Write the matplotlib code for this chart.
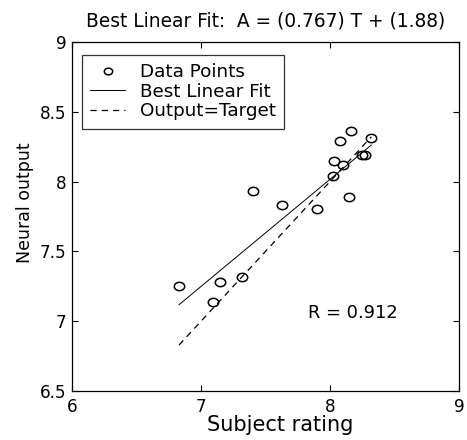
import numpy as np
import matplotlib
matplotlib.use('Agg')
import matplotlib.pyplot as plt
from matplotlib.path import Path

### Font setup
plt.rcParams['font.family'] = ['DejaVu Sans']

### Data: subject rating (target) vs neural output
subject_rating = [6.83, 7.15, 7.09, 7.32, 7.40, 7.63, 7.90, 8.02, 8.03,
                  8.10, 8.08, 8.16, 8.15, 8.25, 8.27, 8.32]
neural_output = [7.25, 7.28, 7.14, 7.32, 7.93, 7.83, 7.80, 8.04, 8.15,
                 8.12, 8.29, 8.36, 7.89, 8.19, 8.19, 8.31]

### Fit parameters and correlation
slope = 0.767
intercept = 1.88
r_value = 0.912

### Slightly wide circle used as the point marker
circ = Path.unit_circle()
wide_circle = Path(circ.vertices * np.array([1.25, 1.0]), circ.codes)

### Figure and axes
fig = plt.figure(figsize=(4.67, 4.40), dpi=100)
ax = fig.add_axes([0.154, 0.111, 0.829, 0.794])

x = np.array(subject_rating)
y = np.array(neural_output)
xr = np.array([x.min(), x.max()])

## Data points
ax.plot(x, y, linestyle='none', marker=wide_circle, markersize=7.5,
        markerfacecolor='none', markeredgecolor='black', markeredgewidth=1.1,
        label='Data Points')

## Best linear fit
ax.plot(xr, slope * xr + intercept, '-', color='black', linewidth=0.7,
        label='Best Linear Fit')

## Output = Target
ax.plot(xr, xr, '--', color='black', linewidth=0.9, dashes=(5, 4),
        label='Output=Target')

## R text
ax.text(7.83, 7.06, 'R = ' + str(r_value), fontsize=12.9, va='center', ha='left')

## Axis limits and ticks
ax.set_xlim(6, 9)
ax.set_ylim(6.5, 9)
ax.set_xticks([6, 7, 8, 9])
ax.set_yticks([6.5, 7, 7.5, 8, 8.5, 9])
ax.set_yticklabels(['6.5', '7', '7.5', '8', '8.5', '9'])
ax.tick_params(direction='in', top=True, right=True, labelsize=12.2,
               length=4, width=0.8)
ax.tick_params(axis='x', pad=5)
ax.tick_params(axis='y', pad=4)
for sp in ax.spines.values():
    sp.set_linewidth(0.9)

## Labels and title
ax.set_xlabel('Subject rating', fontsize=15, labelpad=-1, x=0.537)
ax.set_ylabel('Neural output', fontsize=12.5, labelpad=4, y=0.539)
ax.set_title('Best Linear Fit:  A = (' + str(slope) + ') T + (' + str(intercept) + ')',
             fontsize=13.4, pad=11)

## Legend
leg = ax.legend(loc='upper left', bbox_to_anchor=(0.026, 0.962), fontsize=13.2,
                frameon=True, fancybox=False, edgecolor='black',
                handlelength=1.9, handletextpad=0.8, borderpad=0.45,
                labelspacing=0.08, borderaxespad=0)
leg.get_frame().set_linewidth(0.9)
for h in leg.legend_handles:
    h.set_markersize(6)

fig.savefig('out.png', dpi=100)
